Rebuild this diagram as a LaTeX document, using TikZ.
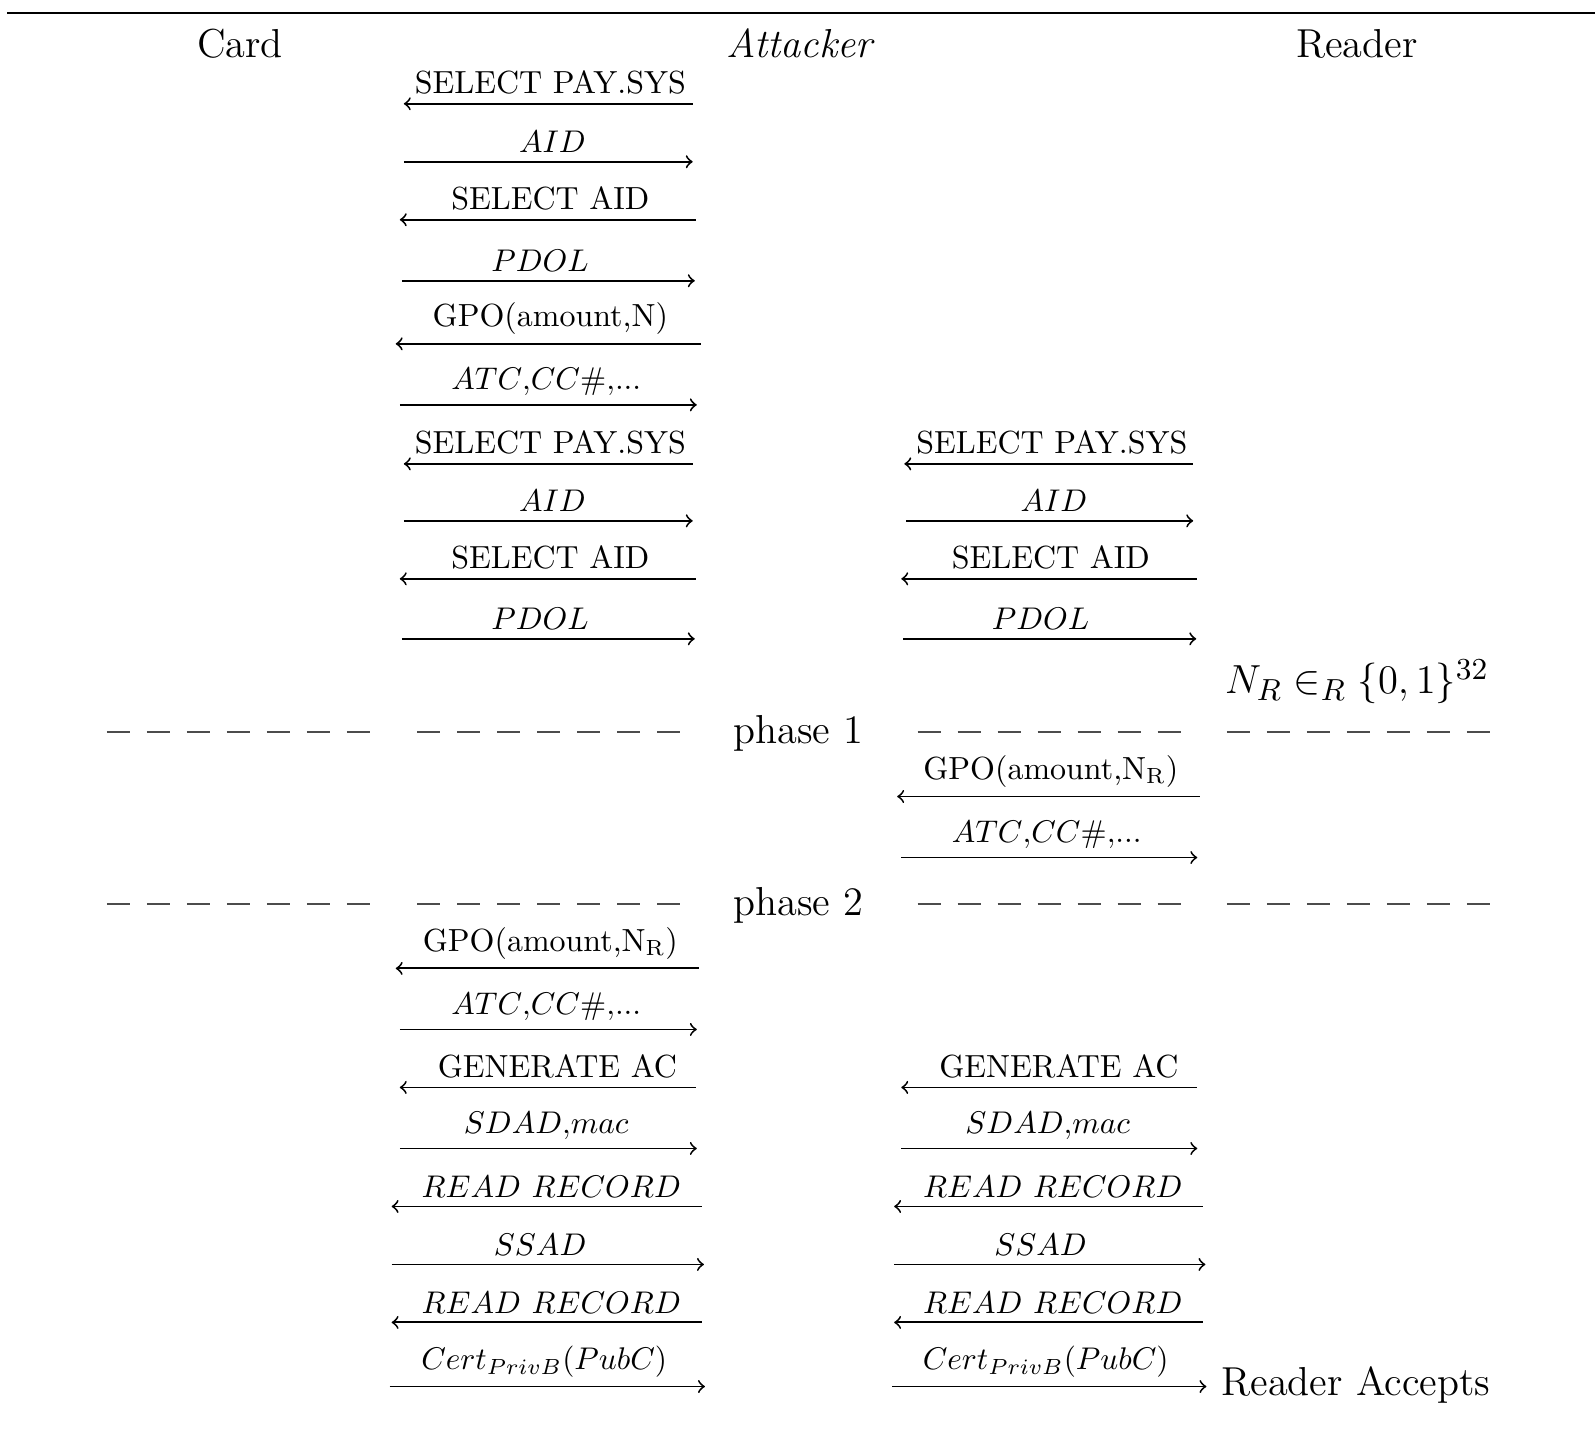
\documentclass[tikz,border=0pt]{standalone}
\usepackage{amsmath}
\begin{document}
\begin{tikzpicture}[x=0.3245pt,y=-0.3245pt,
  msgline/.style={line width=0.6pt},
  lbl/.style={anchor=south,inner sep=0pt,font=\fontsize{10.2}{12}\selectfont},
  big/.style={anchor=base,inner sep=0pt,font=\fontsize{12.9}{15}\selectfont},
  phasesep/.style={line width=0.65pt,dash pattern=on 7.37pt off 5.39pt,gray!60!black}]
\useasboundingbox (0,0) rectangle (1568,1404);

% top rule
\coordinate (ruleL) at (7,12.5);
\coordinate (ruleR) at (1568,12.5);
\draw[line width=0.6pt] (ruleL) -- (ruleR);

% participants
\node[big] (card) at (236,57) {Card};
\node[big] (attacker) at (786,57) {\itshape Attacker};
\node[big] (reader) at (1334,57) {Reader};

% one message: name, arrow style, x1, x2, y, label x, label
\newcommand\emvmsg[7]{%
  \coordinate (#1a) at (#3,#5);
  \coordinate (#1b) at (#4,#5);
  \draw[msgline,#2] (#1a) -- (#1b);
  \node[lbl] (#1l) at (#6,#5-8.5) {#7};}

% card <-> attacker, first run
\emvmsg{r1}{<-}{397}{681}{102}{541}{SELECT PAY.SYS}
\emvmsg{r2}{->}{397}{681}{159}{543}{$AID$}
\emvmsg{r3}{<-}{393}{684}{216}{541}{SELECT AID}
\emvmsg{r4}{->}{395}{683}{276}{531}{$PDOL$}
\emvmsg{r5}{<-}{389}{689}{338}{541}{GPO(amount,N)}
\emvmsg{r6}{->}{393}{685}{398}{537}{$ATC{,}CC\#{,}...$}
% card <-> attacker and attacker <-> reader, second run
\emvmsg{r7}{<-}{397}{681}{456}{541}{SELECT PAY.SYS}
\emvmsg{r8}{->}{397}{681}{512}{543}{$AID$}
\emvmsg{r9}{<-}{393}{684}{569}{541}{SELECT AID}
\emvmsg{r10}{->}{395}{683}{628}{531}{$PDOL$}
\emvmsg{s7}{<-}{889}{1173}{456}{1034}{SELECT PAY.SYS}
\emvmsg{s8}{->}{891}{1173}{512}{1036}{$AID$}
\emvmsg{s9}{<-}{886}{1177}{569}{1033}{SELECT AID}
\emvmsg{s10}{->}{888}{1176}{628}{1023}{$PDOL$}

% reader nonce
\node[big] (nonce) at (1334,682) {\scalebox{1.08}{$N_R \in_R \{0,1\}^{32}$}};

% phase 1 separator
\node[big] (ph1) at (785,731) {phase 1};
\foreach \i/\xa/\xb in {1/105/367,2/410/670,3/902/1162,4/1206/1466}{
  \coordinate (pa\i) at (\xa,720); \coordinate (pb\i) at (\xb,720);
  \draw[phasesep] (pa\i) -- (pb\i);}

\emvmsg{s11}{<-}{882}{1180}{783}{1033}{GPO(amount,N$_{\mathrm{R}}$)}
\emvmsg{s12}{->}{886}{1177}{843}{1029}{$ATC{,}CC\#{,}...$}

% phase 2 separator
\node[big] (ph2) at (785,900) {phase 2};
\foreach \i/\xa/\xb in {1/105/367,2/410/670,3/902/1162,4/1206/1466}{
  \coordinate (qa\i) at (\xa,889); \coordinate (qb\i) at (\xb,889);
  \draw[phasesep] (qa\i) -- (qb\i);}

\emvmsg{r13}{<-}{389}{687}{952}{541}{GPO(amount,N$_{\mathrm{R}}$)}
\emvmsg{r14}{->}{393}{685}{1012}{537}{$ATC{,}CC\#{,}...$}
\emvmsg{r15}{<-}{393}{684}{1069}{548}{GENERATE AC}
\emvmsg{r16}{->}{393}{685}{1129}{537}{$SDAD{,}mac$}
\emvmsg{r17}{<-}{385}{690}{1186}{542}{$READ\ RECORD$}
\emvmsg{r18}{->}{385}{692}{1243}{531}{$SSAD$}
\emvmsg{r19}{<-}{385}{690}{1300}{542}{$READ\ RECORD$}
\emvmsg{r20}{->}{383}{693}{1363}{535}{$Cert_{PrivB}(PubC)$}

\emvmsg{s15}{<-}{886}{1177}{1069}{1041}{GENERATE AC}
\emvmsg{s16}{->}{886}{1177}{1129}{1030}{$SDAD{,}mac$}
\emvmsg{s17}{<-}{879}{1183}{1186}{1035}{$READ\ RECORD$}
\emvmsg{s18}{->}{879}{1185}{1243}{1023}{$SSAD$}
\emvmsg{s19}{<-}{879}{1183}{1300}{1035}{$READ\ RECORD$}
\emvmsg{s20}{->}{877}{1186}{1363}{1028}{$Cert_{PrivB}(PubC)$}

\node[big,anchor=base west] (accept) at (1200,1372) {Reader Accepts};
\end{tikzpicture}
\end{document}
